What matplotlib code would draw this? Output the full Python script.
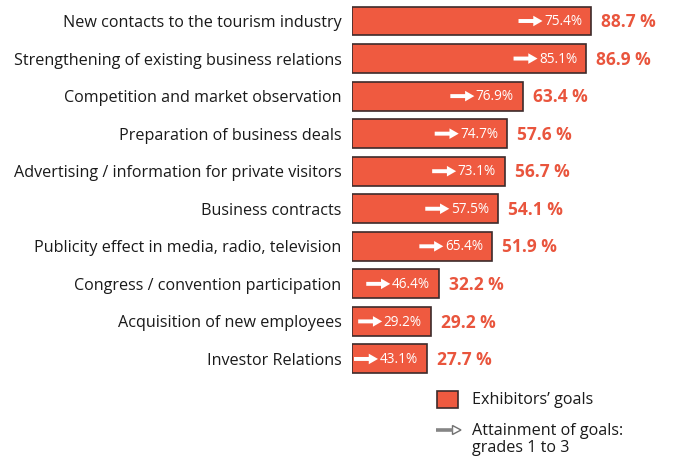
import matplotlib
matplotlib.use("Agg")
import matplotlib.pyplot as plt
from matplotlib.patches import Rectangle, Polygon
from matplotlib.lines import Line2D

categories = [
    "New contacts to the tourism industry",
    "Strengthening of existing business relations",
    "Competition and market observation",
    "Preparation of business deals",
    "Advertising / information for private visitors",
    "Business contracts",
    "Publicity effect in media, radio, television",
    "Congress / convention participation",
    "Acquisition of new employees",
    "Investor Relations",
]
goals = [88.7, 86.9, 63.4, 57.6, 56.7, 54.1, 51.9, 32.2, 29.2, 27.7]
attainment = [75.4, 85.1, 76.9, 74.7, 73.1, 57.5, 65.4, 46.4, 29.2, 43.1]

plt.rcParams['font.family'] = ['Open Sans', 'DejaVu Sans']
BAR = '#EF5A40'
VAL = '#E9553D'
EDGE = '#3d2b2b'

W, H = 673, 457
fig = plt.figure(figsize=(W / 100, H / 100), dpi=100)
ax = fig.add_axes([352 / W, 0, 1 - 352 / W, 1])
ax.set_xlim(0, (W - 352) / 2.695)
row = 37.55
ax.set_ylim((H - 21) / row, -21 / row)
ax.axis('off')

ys = list(range(len(categories)))
ax.barh(ys, goals, height=0.77, color=BAR, edgecolor=EDGE, linewidth=1.2)

inner = []
for y, cat, g, a in zip(ys, categories, goals, attainment):
    ax.annotate(cat, xy=(0, y), xytext=(-7.5, -1.5), textcoords='offset points',
                ha='right', va='center', fontsize=11.65, color='#1a1a1a',
                annotation_clip=False)
    ax.annotate(f"{g:.1f} %", xy=(g, y), xytext=(7.2, -0.8), textcoords='offset points',
                ha='left', va='center', fontsize=12.5, fontweight='bold', color=VAL)
    t = ax.annotate(f"{a:.1f}%", xy=(g, y), xytext=(-6.5, -0.5), textcoords='offset points',
                    ha='right', va='center', fontsize=9.8, color='white')
    inner.append((t, y))

fig.canvas.draw()
r = fig.canvas.get_renderer()
inv = ax.transData.inverted()
for t, y in inner:
    bb = t.get_window_extent(r)
    x_end_px = bb.x0 - 1.5
    x_start_px = x_end_px - 24
    ydisp = ax.transData.transform((0, y))[1]
    xe = inv.transform((x_end_px, ydisp))[0]
    xs = inv.transform((x_start_px, ydisp))[0]
    ax.annotate("", xy=(xe, y), xytext=(xs, y),
                arrowprops=dict(arrowstyle='simple,head_length=0.7,head_width=0.8,tail_width=0.3',
                                fc='white', ec='none', mutation_scale=9.5,
                                shrinkA=0, shrinkB=0))

def fx(px):
    return px / W

def fy(py):
    return 1 - py / H

# legend (figure pixel coordinates)
fig.patches.append(Rectangle((fx(437), fy(408)), 21 / W, 17 / H,
                             transform=fig.transFigure, facecolor=BAR,
                             edgecolor=EDGE, linewidth=1.2))
fig.text(fx(472), fy(400.5), "Exhibitors’ goals", ha='left', va='center',
         fontsize=11.65, color='#1a1a1a')
fig.lines.append(Line2D([fx(436), fx(453)], [fy(430), fy(430)],
                        transform=fig.transFigure, color='#858585', lw=2.6,
                        solid_capstyle='butt'))
fig.patches.append(Polygon([(fx(452.5), fy(425.5)), (fx(452.5), fy(434.5)),
                            (fx(461), fy(430))], closed=True,
                           transform=fig.transFigure, facecolor='white',
                           edgecolor='#707070', lw=1.0))
fig.text(fx(472), fy(439.5), "Attainment of goals:\ngrades 1 to 3", ha='left',
         va='center', fontsize=11.65, color='#1a1a1a', linespacing=1.05)

fig.savefig("out.png", dpi=100)
